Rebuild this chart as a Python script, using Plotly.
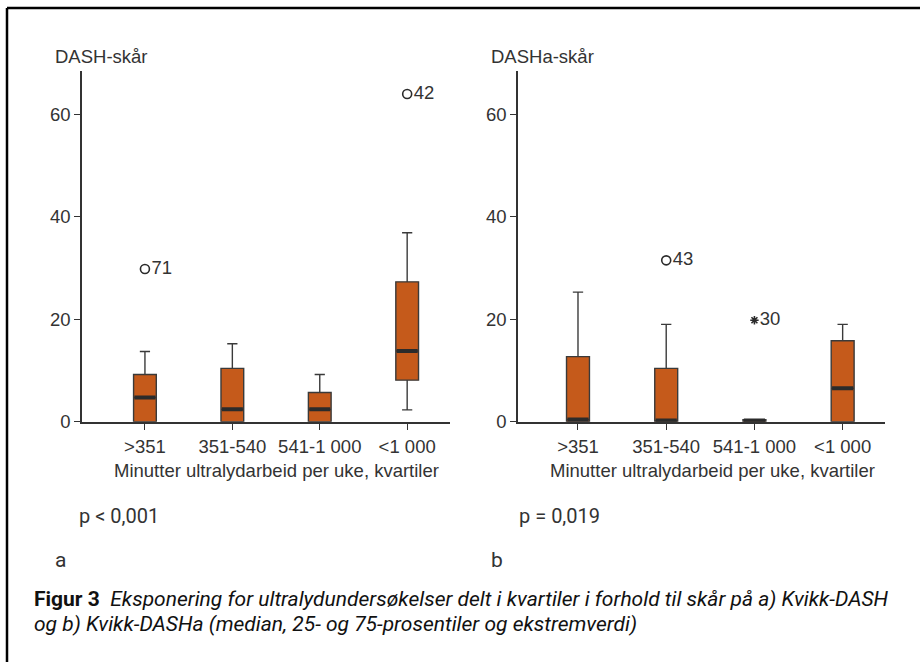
import plotly.graph_objects as go

categories = [">351", "351-540", "541-1 000", "<1 000"]

# Panel a: DASH-skår
a_q1 = [0, 0, 0, 8.1]
a_median = [4.7, 2.4, 2.4, 13.8]
a_q3 = [9.2, 10.4, 5.7, 27.3]
a_low = [0, 0, 0, 2.3]
a_high = [13.7, 15.2, 9.2, 36.9]
a_out_x = [0, 3]
a_out_y = [29.8, 64.0]
a_out_lab = ["71", "42"]

# Panel b: DASHa-skår
b_q1 = [0, 0, 0, 0]
b_median = [0.4, 0.2, 0.2, 6.5]
b_q3 = [12.7, 10.4, 0.4, 15.8]
b_low = [0, 0, 0, 0]
b_high = [25.3, 19.0, 0.4, 19.0]
b_out_x = [1]
b_out_y = [31.5]
b_out_lab = ["43"]
b_ext_x = [2]
b_ext_y = [19.8]
b_ext_lab = ["30"]

yticks = [0, 20, 40, 60]

BOX = "#C55A1B"
DARK = "#2b2b2b"
TXT = "#333333"
FONT = "Liberation Sans"
FS = 18.5
BW = 0.26

fig = go.Figure()

def add_panel(xa, ya, q1, med, q3, lo, hi):
    xs = list(range(len(categories)))
    fig.add_trace(go.Box(
        x=xs, q1=q1, median=med, q3=q3, lowerfence=lo, upperfence=hi,
        width=BW, whiskerwidth=0.45, boxpoints=False,
        fillcolor=BOX, line=dict(color="#3a3a3a", width=1.4),
        xaxis=xa, yaxis=ya, showlegend=False, hoverinfo="skip"))
    mx, my = [], []
    for i, m in enumerate(med):
        mx += [i - BW / 2 + 0.01, i + BW / 2 - 0.01, None]
        my += [m, m, None]
    fig.add_trace(go.Scatter(x=mx, y=my, mode="lines",
                             line=dict(color=DARK, width=4),
                             xaxis=xa, yaxis=ya, showlegend=False, hoverinfo="skip"))

add_panel("x", "y", a_q1, a_median, a_q3, a_low, a_high)
add_panel("x2", "y2", b_q1, b_median, b_q3, b_low, b_high)

def add_points(xa, ya, xs, ys, labs, symbol, size, color):
    fig.add_trace(go.Scatter(
        x=xs, y=ys, mode="markers+text", text=labs,
        textposition="middle right",
        textfont=dict(family=FONT, size=FS, color=TXT),
        marker=dict(symbol=symbol, size=size, color=color,
                    line=dict(color=DARK, width=1.6)),
        xaxis=xa, yaxis=ya, showlegend=False, hoverinfo="skip", cliponaxis=False))

add_points("x", "y", a_out_x, a_out_y, a_out_lab, "circle", 9, "white")
add_points("x2", "y2", b_out_x, b_out_y, b_out_lab, "circle", 9, "white")
add_points("x2", "y2", b_ext_x, b_ext_y, b_ext_lab, "asterisk-open", 7, DARK)

W, H = 920, 672
ydom = [1 - 428 / H, 1 - 72 / H]

xcommon = dict(tickmode="array", tickvals=list(range(4)), ticktext=categories,
               showline=True, linecolor=TXT, linewidth=1.5, ticks="outside",
               ticklen=7, tickcolor=TXT, tickwidth=1.3, showgrid=False, zeroline=False,
               tickfont=dict(family=FONT, size=FS, color=TXT))
ycommon = dict(range=[0, 68.5], tickvals=yticks, showline=True, linecolor=TXT,
               linewidth=1.5, ticks="outside", ticklen=6, tickcolor=TXT, tickwidth=1.3,
               showgrid=False, zeroline=False, domain=ydom,
               tickfont=dict(family=FONT, size=FS, color=TXT))

fig.update_layout(
    width=W, height=H, autosize=False, margin=dict(l=0, r=0, t=0, b=0),
    paper_bgcolor="white", plot_bgcolor="white",
    xaxis=dict(xcommon, domain=[82 / W, 450 / W], range=[-0.72, 3.49], anchor="y"),
    yaxis=dict(ycommon, anchor="x"),
    xaxis2=dict(xcommon, domain=[518 / W, 885 / W], range=[-0.68, 3.48], anchor="y2"),
    yaxis2=dict(ycommon, anchor="x2"),
)

def ann(x, y, text, size=FS, family=FONT, xanchor="left", color=TXT):
    fig.add_annotation(x=x / W, y=1 - y / H, xref="paper", yref="paper", text=text,
                       showarrow=False, xanchor=xanchor, yanchor="middle",
                       font=dict(family=family, size=size, color=color))

ann(53, 57, "DASH-skår")
ann(489, 57, "DASHa-skår")
ann(276, 478, "Minutter ultralydarbeid per uke, kvartiler", xanchor="center")
ann(712, 478, "Minutter ultralydarbeid per uke, kvartiler", xanchor="center")
ann(77, 524, "p < 0,001", size=20, family="Roboto")
ann(517, 524, "p = 0,019", size=20, family="Roboto")
ann(53, 568, "a", size=21, family="Roboto")
ann(489, 568, "b", size=21, family="Roboto")
ann(32, 608, "<b>Figur 3</b>  <i>Eksponering for ultralydundersøkelser delt i kvartiler i forhold til skår på a) Kvikk-DASH</i>",
    size=21, family="Roboto", color="#111111")
ann(32, 633, "<i>og b) Kvikk-DASHa (median, 25- og 75-prosentiler og ekstremverdi)</i>",
    size=21, family="Roboto", color="#111111")

# frame
fig.add_shape(type="line", xref="paper", yref="paper", x0=7 / W, x1=1, y0=1 - 8 / H, y1=1 - 8 / H,
              line=dict(color="black", width=2.5))
fig.add_shape(type="line", xref="paper", yref="paper", x0=7 / W, x1=7 / W, y0=0, y1=1 - 8 / H,
              line=dict(color="black", width=2.5))

fig.write_html("out.html",
               config={"responsive": False, "displayModeBar": False},
               post_script="document.body.style.margin='0';document.body.style.overflow='hidden';")
